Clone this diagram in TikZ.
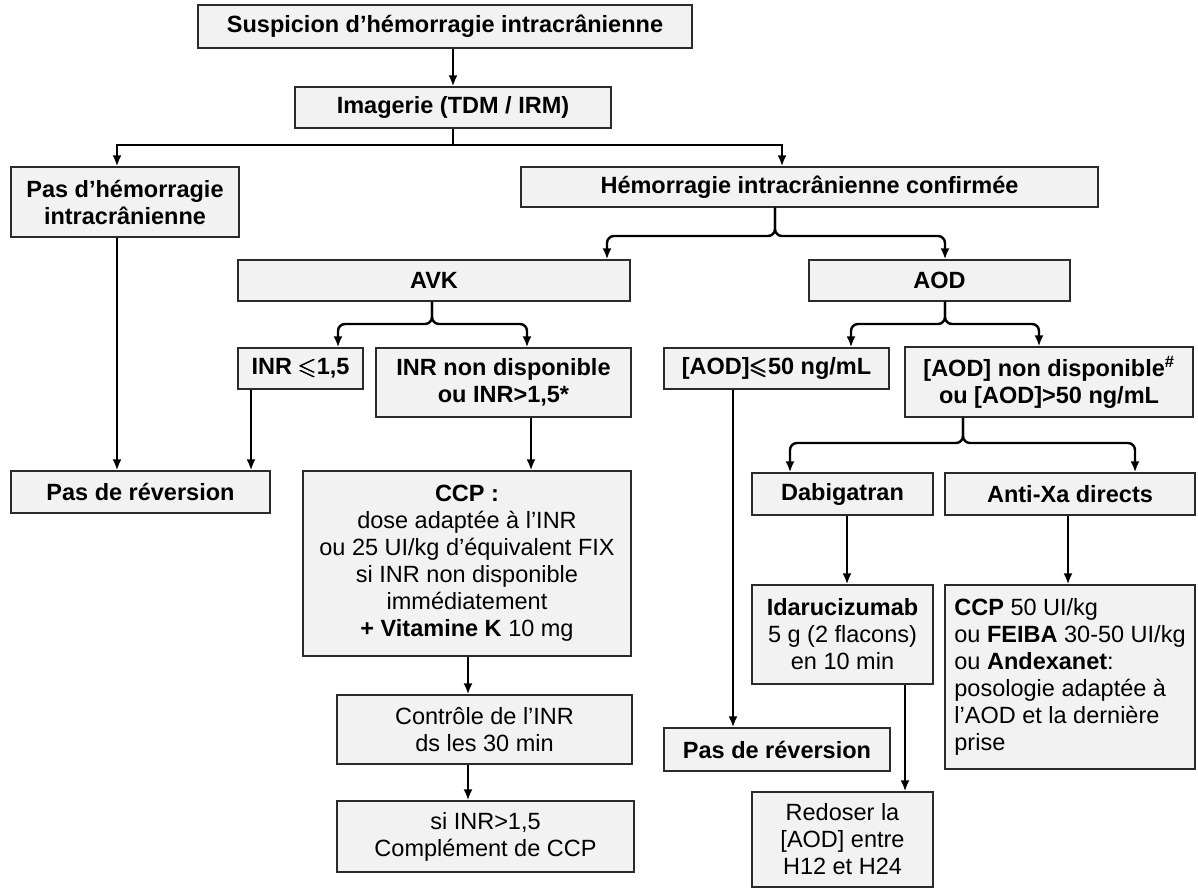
\documentclass[tikz,border=0pt]{standalone}
\usepackage{amsmath}
\usepackage{amssymb}
\usepackage{fontspec}
\setmainfont{Liberation Sans}
\usetikzlibrary{arrows.meta}
\definecolor{boxfill}{HTML}{F2F2F2}
\definecolor{boxline}{HTML}{2B2B2B}
\newcommand{\leqs}{$\pmb{\leqslant}$}
\tikzset{
  box/.style={draw=boxline, line width=1.3pt, fill=boxfill, inner sep=0pt, align=center,
    font=\fontsize{23.5}{27}\selectfont},
  bbox/.style={box, font=\fontsize{23.5}{27}\selectfont\bfseries},
  arr/.style={line width=2.4pt, -{Latex[length=11pt,width=9pt]}},
  plain/.style={line width=2.4pt},
  brace/.style={arr, rounded corners=7pt},
}
\begin{document}
\begin{tikzpicture}[x=1pt,y=-1pt]
\useasboundingbox (0,0) rectangle (1198,890);

% boxes
\node[bbox, minimum width=494pt, minimum height=43pt] (sus) at (445,26.5) {Suspicion d’hémorragie intracrânienne};
\node[bbox, minimum width=316pt, minimum height=41pt] (img) at (453,107.5) {Imagerie (TDM / IRM)};
\node[bbox, minimum width=228pt, minimum height=70pt] (pas1) at (125,202) {Pas d’hémorragie\\intracrânienne};
\node[bbox, minimum width=577pt, minimum height=40pt] (hem) at (809.5,187) {Hémorragie intracrânienne confirmée};
\node[bbox, minimum width=392pt, minimum height=41pt] (avk) at (434,280.5) {AVK};
\node[bbox, minimum width=261pt, minimum height=41pt] (aod) at (939.5,280.5) {AOD};
\node[bbox, minimum width=125pt, minimum height=41pt] (inr1) at (300.5,368.5) {INR \leqs1,5};
\node[bbox, minimum width=255pt, minimum height=69pt] (inr2) at (503.5,382.5) {INR non disponible\\ou INR>1,5*};
\node[bbox, minimum width=225pt, minimum height=41pt] (aod1) at (776.5,368.5) {[AOD]\leqs50 ng/mL};
\node[bbox, minimum width=288pt, minimum height=70pt] (aod2) at (1049,382) {[AOD] non disponible\textsuperscript{\#}\\ou [AOD]>50 ng/mL};
\node[bbox, minimum width=259pt, minimum height=42pt] (pasr1) at (140.5,492) {Pas de réversion};
\node[box, minimum width=328pt, minimum height=185pt] (ccp) at (467,563.5)
  {{\bfseries CCP :}\\dose adaptée à l’INR\\ou 25 UI/kg d’équivalent FIX\\si INR non disponible\\immédiatement\\{\bfseries + Vitamine K} 10 mg};
\node[bbox, minimum width=181pt, minimum height=42pt] (dabi) at (842.5,494) {Dabigatran};
\node[bbox, minimum width=250pt, minimum height=42pt] (antixa) at (1070,494) {Anti-Xa directs};
\node[box, minimum width=295pt, minimum height=69pt] (ctrl) at (484.5,729.5) {Contrôle de l’INR\\ds les 30 min};
\node[box, minimum width=297pt, minimum height=71pt] (compl) at (485.5,836.5) {si INR>1,5\\Complément de CCP};
\node[bbox, minimum width=226pt, minimum height=43pt] (pasr2) at (777,749.5) {Pas de réversion};
\node[box, minimum width=181pt, minimum height=99pt] (ida) at (842.5,634.5) {{\bfseries Idarucizumab}\\5 g (2 flacons)\\en 10 min};
\node[box, minimum width=250pt, minimum height=184pt, align=left] (ccp50) at (1070,677)
  {{\bfseries CCP} 50 UI/kg\\ou {\bfseries FEIBA} 30-50 UI/kg\\ou {\bfseries Andexanet}:\\posologie adaptée à\\l’AOD et la dernière\\prise};
\node[box, minimum width=181pt, minimum height=95pt] (redo) at (842.5,839.5) {Redoser la\\{[AOD]} entre\\H12 et H24};

% junction coordinates
\coordinate (j1) at (453,145);
\coordinate (b1) at (775,236);
\coordinate (b2) at (432,324);
\coordinate (b3) at (945,324);
\coordinate (b4) at (963,443);

% connectors
\draw[arr] ([xshift=8pt]sus.south) -- (img.north);
\draw[plain] (img.south) -- (j1);
\draw[arr] (j1) -| ([xshift=-8pt]pas1.north);
\draw[arr] (j1) -| ([xshift=-27.5pt]hem.north);

\draw[brace] ([xshift=-34.5pt]hem.south) -- (b1) -| ([xshift=173pt]avk.north);
\draw[brace] ([xshift=-34.5pt]hem.south) -- (b1) -| ([xshift=5.5pt]aod.north);

\draw[brace] ([xshift=-2pt]avk.south) -- (b2) -| ([xshift=37.5pt]inr1.north);
\draw[brace] ([xshift=-2pt]avk.south) -- (b2) -| ([xshift=23.5pt]inr2.north);

\draw[brace] ([xshift=5.5pt]aod.south) -- (b3) -| ([xshift=74.5pt]aod1.north);
\draw[brace] ([xshift=5.5pt]aod.south) -- (b3) -| ([xshift=-10pt]aod2.north);

\draw[brace] ([xshift=-86pt]aod2.south) -- (b4) -| ([xshift=-52.5pt]dabi.north);
\draw[brace] ([xshift=-86pt]aod2.south) -- (b4) -| ([xshift=65pt]antixa.north);

\draw[arr] ([xshift=-8pt]pas1.south) -- ([xshift=-23.5pt]pasr1.north);
\draw[arr] ([xshift=-49.5pt]inr1.south) -- ([xshift=110.5pt]pasr1.north);
\draw[arr] ([xshift=27.5pt]inr2.south) -- ([xshift=64pt]ccp.north);
\draw[arr] ([xshift=1pt]ccp.south) -- ([xshift=-16.5pt]ctrl.north);
\draw[arr] ([xshift=-16.5pt]ctrl.south) -- ([xshift=-17.5pt]compl.north);
\draw[arr] ([xshift=-43.5pt]aod1.south) -- ([xshift=-44pt]pasr2.north);
\draw[arr] ([xshift=4.5pt]dabi.south) -- ([xshift=4.5pt]ida.north);
\draw[arr] ([xshift=-2pt]antixa.south) -- ([xshift=-2pt]ccp50.north);
\draw[arr] ([xshift=62.5pt]ida.south) -- ([xshift=62.5pt]redo.north);
\end{tikzpicture}
\end{document}
